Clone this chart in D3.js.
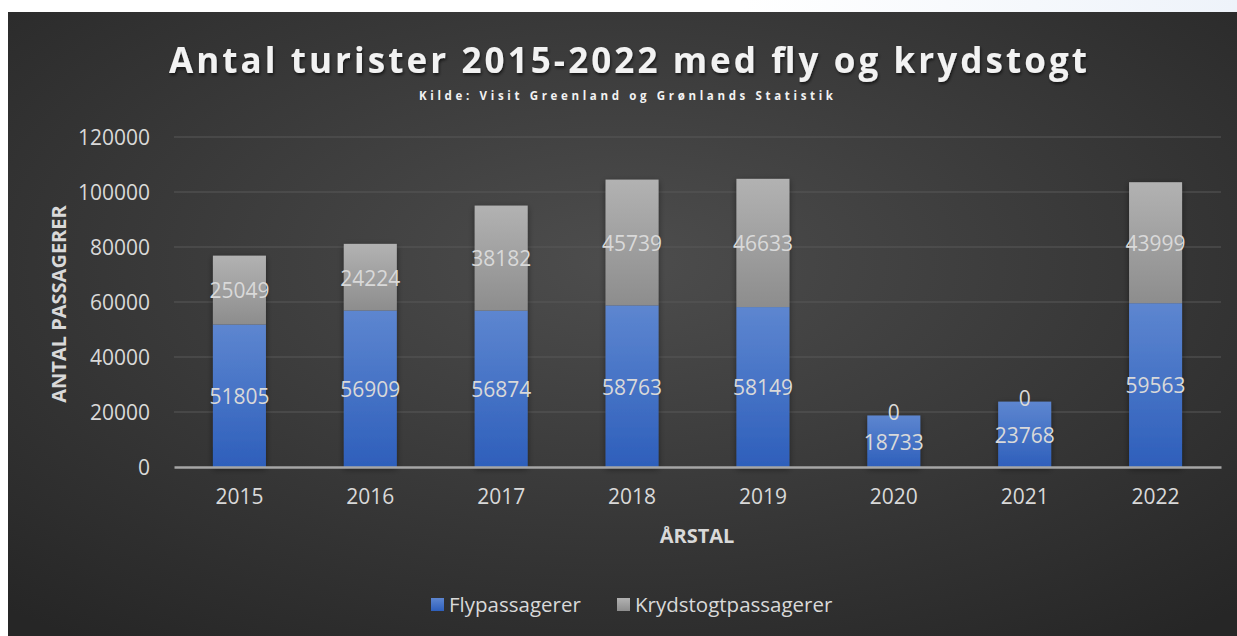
<!DOCTYPE html>
<html><head><meta charset="utf-8">
<script src="https://cdn.jsdelivr.net/npm/d3@7"></script>
<style>
html,body{margin:0;padding:0;background:#fff;}
svg{display:block;}
</style></head>
<body>
<svg id="c" width="1237" height="636"></svg>
<script>
const years = ["2015","2016","2017","2018","2019","2020","2021","2022"];
const flyValues = [51805,56909,56874,58763,58149,18733,23768,59563];
const cruiseValues = [25049,24224,38182,45739,46633,0,0,43999];
const seriesNames = ["Flypassagerer","Krydstogtpassagerer"];
const yTicks = [0,20000,40000,60000,80000,100000,120000];
const titleText = "Antal turister 2015-2022 med fly og krydstogt";
const subtitleText = "Kilde: Visit Greenland og Grønlands Statistik";

const svg = d3.select("#c");
const W = 1237, H = 636;
const defs = svg.append("defs");

const tg = defs.append("linearGradient").attr("id","topg").attr("x1",0).attr("x2",1);
tg.append("stop").attr("offset","0.6").attr("stop-color","#ffffff");
tg.append("stop").attr("offset","1").attr("stop-color","#eef3fa");
svg.append("rect").attr("x",0).attr("y",0).attr("width",W).attr("height",12).attr("fill","url(#topg)");

const bg = defs.append("radialGradient").attr("id","bg")
  .attr("cx",0.5).attr("cy",0.4).attr("r",0.75).attr("gradientUnits","objectBoundingBox");
bg.append("stop").attr("offset","0").attr("stop-color","#4d4d4d");
bg.append("stop").attr("offset","1").attr("stop-color","#262626");
svg.append("rect").attr("x",8).attr("y",12).attr("width",W-8).attr("height",H-12).attr("fill","url(#bg)");

const gBlue = defs.append("linearGradient").attr("id","gBlue").attr("x1",0).attr("x2",0).attr("y1",0).attr("y2",1);
gBlue.append("stop").attr("offset","0").attr("stop-color","#5d86d0");
gBlue.append("stop").attr("offset","1").attr("stop-color","#2e5fbb");
const gGray = defs.append("linearGradient").attr("id","gGray").attr("x1",0).attr("x2",0).attr("y1",0).attr("y2",1);
gGray.append("stop").attr("offset","0").attr("stop-color","#b2b2b2");
gGray.append("stop").attr("offset","1").attr("stop-color","#8d8d8d");

const sh = defs.append("filter").attr("id","sh").attr("x","-30%").attr("y","-10%").attr("width","160%").attr("height","130%");
sh.append("feDropShadow").attr("dx",0).attr("dy",2).attr("stdDeviation",3).attr("flood-color","#000").attr("flood-opacity",0.45);
const tsh = defs.append("filter").attr("id","tsh").attr("x","-5%").attr("y","-20%").attr("width","110%").attr("height","150%");
tsh.append("feDropShadow").attr("dx",1).attr("dy",2).attr("stdDeviation",1.5).attr("flood-color","#000").attr("flood-opacity",0.6);

const margin = {left:174, right:1221, top:137, bottom:467};
const x = d3.scaleBand().domain(years).range([margin.left, margin.right]).paddingInner(0.595).paddingOuter(0.2975);
const y = d3.scaleLinear().domain([0,120000]).range([margin.bottom, margin.top]);

const font = "'Open Sans', 'Liberation Sans', sans-serif";
const txt = "#d9d9d9";

svg.append("g").selectAll("line").data(yTicks.filter(d=>d>0)).join("line")
  .attr("x1",margin.left).attr("x2",margin.right)
  .attr("y1",d=>y(d)).attr("y2",d=>y(d))
  .attr("stroke","#595959").attr("stroke-width",1);

const yAxis = d3.axisLeft(y).tickValues(yTicks).tickSize(0).tickPadding(0).tickFormat(d3.format("d"));
const ya = svg.append("g").attr("transform",`translate(${150},0)`).call(yAxis);
ya.select(".domain").remove();
ya.selectAll("text").attr("fill",txt).attr("font-family",font).attr("font-size",21).attr("dy","0.35em");

const rows = years.map((yr,i)=>({year:yr, fly:flyValues[i], cruise:cruiseValues[i]}));
const stack = d3.stack().keys(["fly","cruise"])(rows);
const fills = ["url(#gBlue)","url(#gGray)"];

const bars = svg.append("g").attr("filter","url(#sh)");
stack.forEach((s,si)=>{
  bars.append("g").selectAll("rect").data(s).join("rect")
    .attr("x",d=>x(d.data.year)).attr("width",x.bandwidth())
    .attr("y",d=>y(d[1])).attr("height",d=>Math.max(0,y(d[0])-y(d[1])))
    .attr("fill",fills[si]);
});

const xa = svg.append("g").attr("transform",`translate(0,${margin.bottom})`)
  .call(d3.axisBottom(x).tickSize(0).tickPadding(22));
xa.select(".domain").attr("stroke","#a6a6a6").attr("stroke-width",2.5);
xa.selectAll("text").attr("fill",txt).attr("font-family",font).attr("font-size",21);

const lab = svg.append("g").attr("font-family",font).attr("font-size",21).attr("fill",txt).attr("text-anchor","middle");
stack.forEach((s)=>{
  lab.append("g").selectAll("text").data(s).join("text")
    .attr("x",d=>x(d.data.year)+x.bandwidth()/2)
    .attr("y",d=>y((d[0]+d[1])/2) + ((d[1]-d[0])===0 ? -3 : 1)).attr("dy","0.35em")
    .text(d=>d[1]-d[0]);
});

svg.append("text").attr("x",628).attr("y",73).attr("text-anchor","middle")
  .attr("font-family",font).attr("font-weight","bold").attr("font-size",35)
  .attr("fill","#f2f2f2").attr("filter","url(#tsh)")
  .attr("textLength",918).attr("lengthAdjust","spacing").text(titleText);
svg.append("text").attr("x",626).attr("y",100).attr("text-anchor","middle")
  .attr("font-family",font).attr("font-weight","bold").attr("font-size",11.5)
  .attr("fill","#f2f2f2")
  .attr("textLength",414).attr("lengthAdjust","spacing").text(subtitleText);

svg.append("text").attr("transform","translate(66,304) rotate(-90)").attr("text-anchor","middle")
  .attr("font-family",font).attr("font-weight","bold").attr("font-size",20).attr("fill",txt).text("ANTAL PASSAGERER");
svg.append("text").attr("x",697).attr("y",543).attr("text-anchor","middle")
  .attr("font-family",font).attr("font-weight","bold").attr("font-size",20).attr("fill",txt).text("ÅRSTAL");

const leg = svg.append("g");
const legX = [431, 617];
seriesNames.forEach((n,i)=>{
  leg.append("rect").attr("x",legX[i]).attr("y",598).attr("width",13).attr("height",13).attr("fill",fills[i]);
  leg.append("text").attr("x",legX[i]+18).attr("y",605).attr("dy","0.35em")
    .attr("font-family",font).attr("font-size",20.5).attr("fill",txt).text(n);
});
</script>
</body></html>
